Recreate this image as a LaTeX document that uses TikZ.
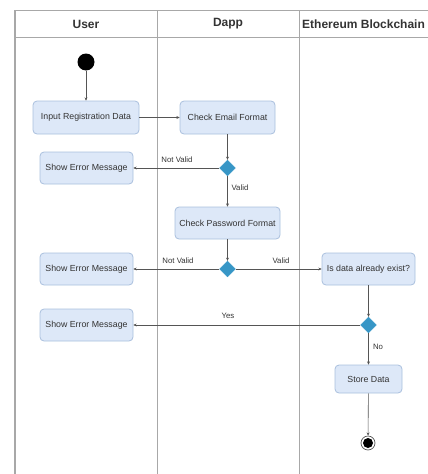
\documentclass[tikz,border=0pt]{standalone}
\usepackage{fontspec}
\setmainfont{Liberation Sans}
\usetikzlibrary{arrows.meta,shapes.geometric}
\definecolor{actfill}{HTML}{DDE8F8}
\definecolor{actline}{HTML}{A9C0DD}
\definecolor{decfill}{HTML}{3796C6}
\definecolor{laneline}{HTML}{A8A8A8}
\definecolor{flowline}{HTML}{555555}
\definecolor{txt}{HTML}{333333}
\tikzset{
  lane/.style={draw=laneline, line width=0.8pt},
  hdr/.style={font=\fontsize{12}{14}\selectfont\bfseries, text=txt, inner sep=0pt},
  act/.style={rectangle, rounded corners=4pt, fill=actfill, draw=actline, line width=0.8pt,
    font=\fontsize{8.8}{10}\selectfont, text=txt, inner sep=1pt, minimum height=32pt},
  dec/.style={diamond, fill=decfill, draw=decfill, minimum width=16pt, minimum height=16pt, inner sep=0pt},
  lbl/.style={font=\fontsize{7.8}{9}\selectfont, text=txt, inner sep=0pt},
  arr/.style={draw=flowline, line width=0.6pt, -{Stealth[length=3.2pt,width=3pt]}}
}
\begin{document}
\begin{tikzpicture}[x=1pt,y=-1pt]
\useasboundingbox (0,0) rectangle (428,474);
% swimlane frame, clipped at the page edge
\begin{scope}
  \clip (0,0) rectangle (428,474);
  \draw[lane] (15,10) rectangle (600,520);
  \draw[lane, line width=1.6pt] (15,10) -- (15,520);
  \draw[lane] (15,37) -- (600,37);
  \draw[lane] (157,10) -- (157,520);
  \draw[lane] (299,10) -- (299,520);
\end{scope}
\node[hdr] (hUser) at (86,24) {User};
\node[hdr] (hDapp) at (228,24) {Dapp};
\node[hdr, anchor=west] (hChain) at (302,24) {Ethereum Blockchain};

% start and end states
\node[circle, fill=black, minimum size=17pt, inner sep=0pt] (start) at (86,62) {};
\node[circle, draw=flowline, line width=0.7pt, minimum size=14pt, inner sep=0pt] (final) at (368,443) {};
\fill[black] (final.center) circle (5pt);

% activities
\node[act, minimum width=106pt, minimum height=33pt] (input) at (86,117.5) {Input Registration Data};
\node[act, minimum width=95pt, minimum height=33pt] (email) at (227.5,117.5) {Check Email Format};
\node[act, minimum width=93pt] (err1) at (86.5,168) {Show Error Message};
\node[act, minimum width=105pt] (pwd) at (227.5,223) {Check Password Format};
\node[act, minimum width=93pt] (err2) at (86.5,269) {Show Error Message};
\node[act, minimum width=93pt] (exist) at (368.5,269) {Is data already exist?};
\node[act, minimum width=93pt] (err3) at (86.5,325) {Show Error Message};
\node[act, minimum width=67pt, minimum height=28pt] (store) at (368.5,379) {Store Data};

% decisions
\node[dec] (d1) at (227.5,168) {};
\node[dec] (d2) at (227.5,269) {};
\node[dec] (d3) at (368.5,325) {};

% flows
\draw[arr] (start) -- (input);
\draw[arr] (input) -- (email);
\draw[arr] (email) -- (d1);
\draw[arr] (d1) -- (err1);
\draw[arr] (d1) -- (pwd);
\draw[arr] (pwd) -- (d2);
\draw[arr] (d2) -- (err2);
\draw[arr] (d2) -- (exist);
\draw[arr] (exist) -- (d3);
\draw[arr] (d3) -- (err3);
\draw[arr] (d3) -- (store);
\draw[arr] (store) -- (final);

% guard labels
\node[lbl] (nv1) at (177,160) {Not Valid};
\node[lbl] (v1) at (240,188) {Valid};
\node[lbl] (nv2) at (178,261) {Not Valid};
\node[lbl] (v2) at (281,261) {Valid};
\node[lbl] (yes) at (228,316) {Yes};
\node[lbl] (no) at (378,347) {No};
\end{tikzpicture}
\end{document}
